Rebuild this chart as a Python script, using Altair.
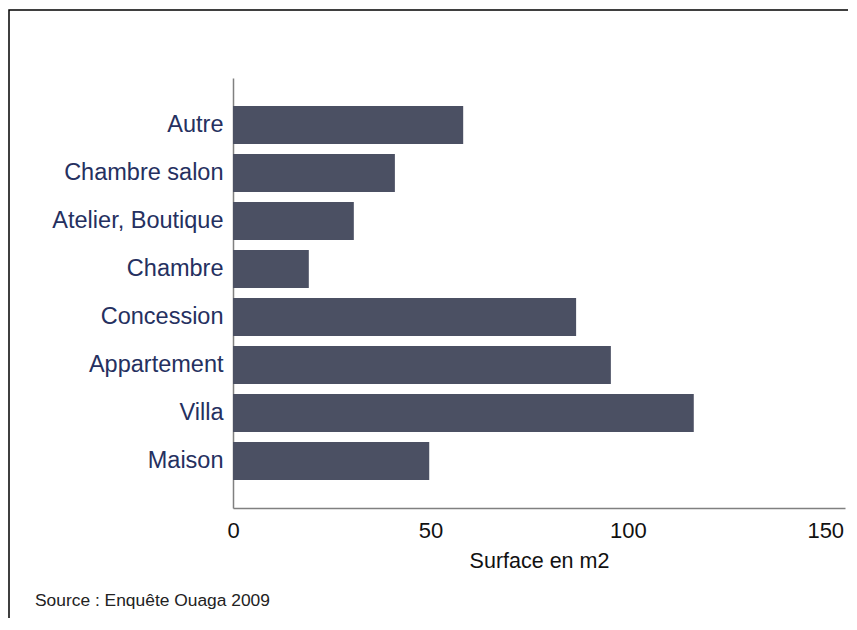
import altair as alt
import pandas as pd

categories = ["Autre", "Chambre salon", "Atelier, Boutique", "Chambre",
              "Concession", "Appartement", "Villa", "Maison"]
surface = [58.3, 41.0, 30.6, 19.2, 86.9, 95.7, 116.7, 49.7]
x_ticks = [0, 50, 100, 150]

df = pd.DataFrame({"type": categories, "surface": surface})

W, H = 612, 430
PAD_L, PAD_T = 225, 70

bars = alt.Chart(df).mark_bar(color="#4b5063").encode(
    x=alt.X("surface:Q",
            scale=alt.Scale(domain=[0, 155], nice=False),
            axis=alt.Axis(values=x_ticks, title="Surface en m2", grid=False,
                          ticks=False, domainColor="#808080", domainWidth=1.5,
                          labelFontSize=22, labelColor="#111111", labelPadding=12,
                          labelFont="Liberation Sans",
                          titleFont="Liberation Sans", titleFontSize=21.5,
                          titleFontWeight="normal", titleColor="#111111",
                          titlePadding=9, labelFlush=False)),
    y=alt.Y("type:N", sort=categories,
            scale=alt.Scale(paddingInner=0.21, paddingOuter=0.585),
            axis=alt.Axis(title=None, ticks=False, domainColor="#808080",
                          domainWidth=1.5, labelFontSize=23.5,
                          labelFont="Liberation Sans", labelColor="#253060",
                          labelPadding=10, labelLimit=400)),
)

note = alt.Chart(alt.Data(values=[{"t": "Source : Enquête Ouaga 2009"}])).mark_text(
    align="left", baseline="middle", fontSize=17.4, font="Liberation Sans",
    color="#222222"
).encode(text="t:N", x=alt.value(35 - 233), y=alt.value(601 - 78))

frame = alt.Chart(alt.Data(values=[{}])).mark_rect(
    filled=False, stroke="#000000", strokeWidth=1.5
).encode(x=alt.value(-224), x2=alt.value(700),
         y=alt.value(-68), y2=alt.value(700))

chart = alt.layer(frame, bars, note).properties(
    width=W, height=H,
    autosize=alt.AutoSizeParams(type="none"),
    padding={"left": PAD_L, "top": PAD_T, "right": 3, "bottom": 110},
).configure(background="white").configure_view(stroke=None)

chart.save("out.html", embed_options={"renderer": "svg", "actions": False})
